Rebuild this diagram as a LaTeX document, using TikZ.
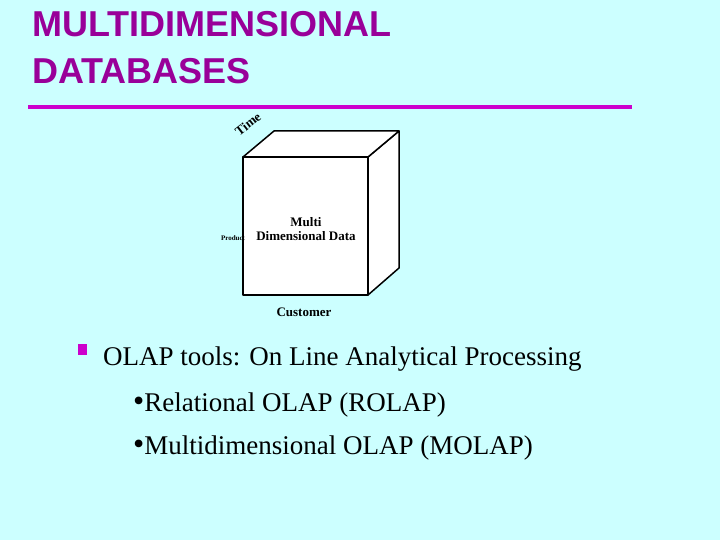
\documentclass[tikz,border=0pt]{standalone}
\usepackage{fontspec}
\setmainfont{Liberation Serif}
\newfontfamily\arial{Liberation Sans}
\definecolor{bg}{HTML}{CCFFFF}
\definecolor{ttl}{HTML}{990099}
\definecolor{rule}{HTML}{CC00CC}
\begin{document}
\begin{tikzpicture}[x=1pt,y=-1pt,
  face/.style={draw=black,line width=1.5pt,fill=white,line join=round},
  lbl/.style={font=\bfseries\fontsize{13}{14}\selectfont,align=center},
  body/.style={anchor=west,font=\fontsize{27}{30}\selectfont,inner sep=0}]
\fill[bg] (0,0) rectangle (720,540);
\useasboundingbox (0,0) rectangle (720,540);
\node[anchor=north west,align=left,text=ttl,font=\arial\bfseries\fontsize{36}{47}\selectfont,inner sep=0] (title) at (32,11) {MULTIDIMENSIONAL\\DATABASES};
\coordinate (r1) at (28,107); \coordinate (r2) at (632,107);
\draw[rule,line width=4pt] (r1) -- (r2);
% cube
\draw[face] (368,157) -- (399,131) -- (399,268) -- (368,295) -- cycle;
\draw[face] (243,157) -- (274,131) -- (399,131) -- (368,157) -- cycle;
\draw[face] (243,157) rectangle (368,295);
\node[lbl] (data) at (306,229) {Multi\\Dimensional Data};
\node[lbl,rotate=38,inner sep=0] (time) at (248,124) {Time};
\node[lbl] (cust) at (304,312) {Customer};
\node[font=\bfseries\fontsize{7}{7}\selectfont,inner sep=0] (prod) at (233,238) {Product};
% bullets
\node[text=rule,inner sep=0] (b1) at (82,349) {\rule{9pt}{11pt}};
\node[body] (t1) at (103,359) {OLAP tools: On Line Analytical Processing};
\node[body] (t2) at (133,405) {{\fontsize{32}{32}\selectfont\textbullet}Relational OLAP (ROLAP)};
\node[body] (t3) at (133,448) {{\fontsize{32}{32}\selectfont\textbullet}Multidimensional OLAP (MOLAP)};
\end{tikzpicture}
\end{document}
